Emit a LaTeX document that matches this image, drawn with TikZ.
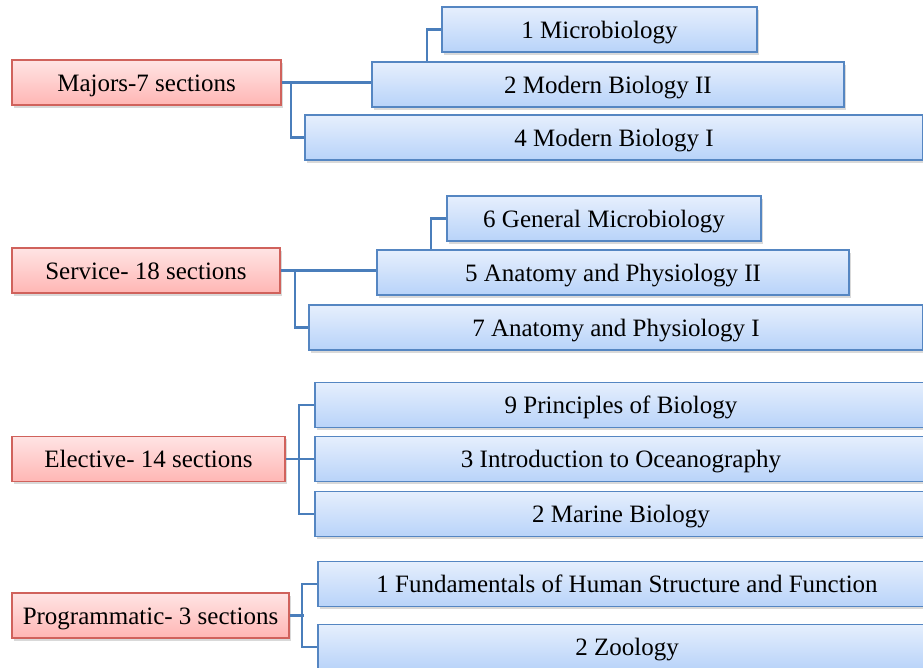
\documentclass[tikz,border=0pt]{standalone}
\usepackage{fontspec}
\setmainfont{Liberation Serif}
\usetikzlibrary{shadows, positioning}
\definecolor{grpred}{HTML}{D0625C}
\definecolor{grptop}{HTML}{FFE4E4}
\definecolor{grpbot}{HTML}{FFB6B4}
\definecolor{crsblue}{HTML}{5586C2}
\definecolor{crstop}{HTML}{E6EFFD}
\definecolor{crsbot}{HTML}{B8D3F9}
\definecolor{linkblue}{HTML}{4A7EBB}
\tikzset{
  % scatola del gruppo (a sinistra)
  grpbox/.style={draw=grpred, line width=1.8pt, top color=grptop, bottom color=grpbot,
    minimum height=45pt, inner sep=0pt, font=\fontsize{25}{30}\selectfont,
    text height=17pt, text depth=0pt,
    drop shadow={opacity=0.3, shadow xshift=1.5pt, shadow yshift=-2.5pt}},
  % scatola del corso
  crsbox/.style={draw=crsblue, line width=1.8pt, top color=crstop, bottom color=crsbot,
    minimum height=45pt, inner sep=0pt, font=\fontsize{25}{30}\selectfont,
    text height=17pt, text depth=0pt,
    drop shadow={opacity=0.3, shadow xshift=1.5pt, shadow yshift=-2.5pt}},
  % collegamenti
  link/.style={line width=2.4pt, linkblue},
}

\begin{document}
\begin{tikzpicture}[x=1pt, y=-1pt]
  \useasboundingbox (0,0) rectangle (923,667);
  \clip (0,0) rectangle (923,667);
  % gruppi
  \node[grpbox, minimum width=269pt] (maj) at (146.5,82.5) {Majors-7 sections};
  \node[grpbox, minimum width=268pt] (srv) at (146,270.5) {Service- 18 sections};
  \node[grpbox, minimum width=273pt] (elc) at (148.5,459) {Elective- 14 sections};
  \node[grpbox, minimum width=277pt] (prg) at (150.5,615.5) {Programmatic- 3 sections};
  % corsi
  \node[crsbox, minimum width=315pt] (mic) at (599.5,29.5) {1 Microbiology};
  \node[crsbox, minimum width=472pt] (mbb) at (608,84.5) {2 Modern Biology II};
  \node[crsbox, minimum width=618pt] (mba) at (614,137.5) {4 Modern Biology I};
  \node[crsbox, minimum width=314pt] (gmi) at (604,218.5) {6 General Microbiology};
  \node[crsbox, minimum width=472pt] (apb) at (613,272.5) {5 Anatomy and Physiology II};
  \node[crsbox, minimum width=614pt] (apa) at (616,327.5) {7 Anatomy and Physiology I};
  \node[crsbox, minimum width=612pt] (pri) at (621,405) {9 Principles of Biology};
  \node[crsbox, minimum width=612pt] (oce) at (621,459) {3 Introduction to Oceanography};
  \node[crsbox, minimum width=612pt] (mar) at (621,514) {2 Marine Biology};
  \node[crsbox, minimum width=618pt] (fun) at (627,584) {1 Fundamentals of Human Structure and Function};
  \node[crsbox, minimum width=618pt] (zoo) at (627,647) {2 Zoology};
  % collegamenti
  \draw[link] (maj.east) -- (maj.east -| mbb.west);
  \draw[link] ([xshift=9pt]maj.east) |- (mba.west);
  \draw[link] ([xshift=-14pt]mic.west |- mbb.north) |- (mic.west);
  \draw[link] (srv.east) -- (srv.east -| apb.west);
  \draw[link] ([xshift=14pt]srv.east) |- (apa.west);
  \draw[link] ([xshift=-15pt]gmi.west |- apb.north) |- (gmi.west);
  \draw[link] (elc.east) -- (oce.west);
  \draw[link] (pri.west) -- ++(-15,0) |- (mar.west);
  \draw[link] (prg.east) -- ++(14,0);
  \draw[link] (fun.west) -- ++(-15,0) |- (zoo.west);
\end{tikzpicture}
\end{document}
